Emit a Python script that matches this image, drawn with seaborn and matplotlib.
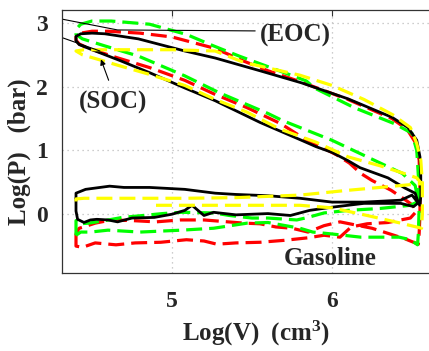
import matplotlib
matplotlib.use("Agg")
import matplotlib.pyplot as plt
import seaborn as sns

# ---- data: log10(V) [cm^3] vs log10(P) [bar] ----
black_v = [4.40, 4.40, 4.41, 4.45, 4.49, 4.53, 4.60, 4.66, 4.75, 4.89, 5.00, 5.08, 5.125, 5.20, 5.26, 5.40,
           5.60, 5.74, 5.86, 6.00, 6.20, 6.43, 6.51, 6.54,
           6.52, 6.456, 6.35, 6.175, 6.10, 6.00, 5.90, 5.80, 5.55, 5.27, 5.08, 4.86, 4.675, 4.49, 4.42, 4.40,
           4.40, 4.43, 4.50, 4.58,
           4.79, 5.08, 5.27, 5.55, 5.81, 6.10, 6.375, 6.475, 6.53, 6.55, 6.555, 6.556, 6.55,
           6.50, 6.43, 6.20, 6.00, 5.80, 5.60, 5.40, 5.27, 5.08, 4.86, 4.70, 4.61, 4.46, 4.40, 4.40]
black_p = [0.25, 0.05, -0.08, -0.13, -0.09, -0.08, -0.09, -0.12, -0.06, -0.05, 0.00, 0.06, 0.14, -0.02, 0.03, -0.01,
           0.01, -0.02, 0.06, 0.11, 0.17, 0.17, 0.12, 0.18,
           0.33, 0.41, 0.57, 0.73, 0.84, 0.97, 1.06, 1.17, 1.44, 1.78, 1.98, 2.22, 2.41, 2.59, 2.66, 2.72,
           2.79, 2.83, 2.84, 2.83,
           2.75, 2.56, 2.45, 2.25, 2.06, 1.81, 1.52, 1.36, 1.16, 0.90, 0.60, 0.30, 0.14,
           0.30, 0.22, 0.19, 0.19, 0.25, 0.29, 0.31, 0.33, 0.39, 0.42, 0.42, 0.44, 0.39, 0.33, 0.25]

red_v = [4.40, 4.40, 4.44, 4.52, 4.65, 4.77, 4.93, 5.09, 5.20, 5.28, 5.40, 5.55, 5.70, 5.85, 5.95, 6.05,
         6.12, 6.22, 6.35, 6.49, 6.53,
         6.50, 6.45, 6.37, 6.25, 6.18, 6.11, 6.03, 5.92, 5.83, 5.68, 5.47, 5.26, 5.08, 4.86, 4.65, 4.48, 4.42, 4.40,
         4.40, 4.43, 4.50, 4.60,
         4.80, 5.00, 5.12, 5.27, 5.45, 5.60, 5.80, 6.10, 6.375, 6.47, 6.52, 6.545, 6.55, 6.55, 6.545, 6.54,
         6.45, 6.35, 6.25, 6.15, 6.05, 5.95, 5.85, 5.75, 5.65, 5.55, 5.45, 5.35, 5.20, 5.05, 4.90, 4.75,
         4.62, 4.52, 4.46, 4.42, 4.40]
red_p = [-0.30, -0.50, -0.52, -0.45, -0.48, -0.45, -0.44, -0.40, -0.42, -0.47, -0.45, -0.44, -0.41, -0.37, -0.33, -0.36,
         -0.20, -0.15, -0.13, -0.06, 0.05,
         0.15, 0.24, 0.375, 0.53, 0.64, 0.80, 0.93, 1.07, 1.18, 1.42, 1.67, 1.89, 2.10, 2.30, 2.46, 2.60, 2.67, 2.73,
         2.78, 2.84, 2.87, 2.87,
         2.84, 2.78, 2.70, 2.60, 2.40, 2.25, 2.08, 1.80, 1.50, 1.33, 1.13, 0.85, 0.40, 0.00, -0.30, -0.47,
         -0.38, -0.30, -0.22, -0.17, -0.12, -0.18, -0.28, -0.22, -0.20, -0.15, -0.14, -0.12, -0.09, -0.09, -0.12, -0.10,
         -0.09, -0.14, -0.19, -0.22, -0.30]

green_v = [4.40, 4.40, 4.42, 4.48, 4.58, 4.69, 4.82, 4.94, 5.06, 5.26, 5.36, 5.50, 5.60, 5.78, 5.85, 5.95,
           6.10, 6.30, 6.49,
           6.54, 6.52, 6.44, 6.27, 6.00, 5.69, 5.60, 5.30, 5.08, 4.79, 4.58, 4.44, 4.40,
           4.40, 4.43, 4.50, 4.62,
           4.86, 5.09, 5.26, 5.42, 5.67, 5.84, 5.89, 6.14, 6.39, 6.50, 6.53, 6.54, 6.545, 6.54, 6.535,
           6.49, 6.42, 6.30, 6.18, 6.00, 5.88, 5.80, 5.60, 5.47, 5.26, 5.06, 4.80, 4.60, 4.49, 4.43, 4.40]
green_p = [-0.33, -0.10, -0.15, -0.14, -0.10, -0.05, -0.02, 0.01, 0.03, 0.02, -0.02, -0.06, -0.06, -0.09, -0.05, 0.02,
           0.06, 0.09, 0.14,
           0.20, 0.45, 0.64, 0.84, 1.16, 1.47, 1.58, 1.90, 2.17, 2.48, 2.64, 2.75, 2.82,
           2.90, 2.98, 3.03, 3.03,
           2.98, 2.82, 2.64, 2.48, 2.25, 2.09, 1.98, 1.67, 1.42, 1.27, 1.00, 0.60, 0.10, -0.30, -0.48,
           -0.40, -0.36, -0.36, -0.36, -0.31, -0.28, -0.22, -0.13, -0.14, -0.22, -0.25, -0.28, -0.25, -0.28, -0.28, -0.33]

yellow_v = [4.40, 4.40, 4.45, 4.70, 5.08, 5.40, 5.80, 6.10, 6.43, 6.56,
            6.53, 6.45, 6.30, 6.10, 5.90, 5.67, 5.47, 5.27, 5.08, 4.85, 4.67, 4.55, 4.44, 4.40,
            4.45, 4.70, 5.00, 5.27,
            5.45, 5.80, 6.00, 6.20, 6.38, 6.49, 6.53, 6.555, 6.565, 6.565, 6.56,
            6.43, 6.22, 6.00, 5.80, 5.50, 5.20, 4.90]
yellow_p = [0.20, 0.24, 0.25, 0.25, 0.25, 0.26, 0.30, 0.375, 0.45, 0.48,
            0.57, 0.64, 0.76, 0.90, 1.13, 1.34, 1.60, 1.80, 2.02, 2.20, 2.33, 2.42, 2.50, 2.56,
            2.58, 2.58, 2.58, 2.56,
            2.38, 2.18, 2.02, 1.80, 1.56, 1.36, 1.11, 0.85, 0.50, 0.00, -0.22,
            -0.14, -0.02, 0.10, 0.14, 0.14, 0.14, 0.14]

x_ticks = [5, 6]
y_ticks = [0, 1, 2, 3]

sns.set_style("white")
plt.rcParams['font.family'] = ['Liberation Serif', 'DejaVu Serif']
plt.rcParams['font.weight'] = 'bold'
plt.rcParams['mathtext.fontset'] = 'custom'
plt.rcParams['mathtext.rm'] = 'Liberation Serif:bold'
plt.rcParams['mathtext.it'] = 'Liberation Serif:bold'
plt.rcParams['mathtext.bf'] = 'Liberation Serif:bold'

fig = plt.figure(figsize=(4.29, 3.51), dpi=100)
ax = fig.add_axes([62 / 429, 1 - 273 / 351, (431 - 62) / 429, (273 - 10) / 351])

dash = (0, (5, 2.2))
sns.lineplot(x=red_v, y=red_p, sort=False, estimator=None, color='#ff0000', linewidth=2.3, linestyle=dash, ax=ax)
sns.lineplot(x=green_v, y=green_p, sort=False, estimator=None, color='#00ff00', linewidth=2.3, linestyle=dash, ax=ax)
sns.lineplot(x=black_v, y=black_p, sort=False, estimator=None, color='black', linewidth=2.0, ax=ax)
sns.lineplot(x=yellow_v, y=yellow_p, sort=False, estimator=None, color='#ffff00', linewidth=2.3, linestyle=dash, ax=ax)

ax.set_xlim(4.3125, 6.619)
ax.set_ylim(-0.922, 3.203)
ax.set_xticks(x_ticks)
ax.set_yticks(y_ticks)
ax.grid(True, linestyle=(0, (1, 3)), color='#bdbdbd', linewidth=0.9)
ax.tick_params(direction='in', top=True, right=False, length=4.5, width=0.8, labelsize=17, color='#333333')
ax.tick_params(axis='x', pad=13)
ax.tick_params(axis='y', pad=10)
for s in ax.spines.values():
    s.set_color('#333333')
    s.set_linewidth(0.9)
ax.spines['right'].set_visible(False)

ax.set_xlabel("Log(V)  (cm$^{3}$)", fontsize=18, fontweight='bold')
ax.set_ylabel("Log(P)   (bar)", fontsize=18, fontweight='bold')
ax.xaxis.set_label_coords(0.526, -0.175)
ax.yaxis.set_label_coords(-0.085, 0.46)

# annotations
ax.plot([4.3125, 4.66, 5.52], [3.06, 2.89, 2.875], color='black', linewidth=0.8)
ax.plot([4.3125, 4.55], [2.77, 2.56], color='black', linewidth=0.8)
ax.annotate("", xy=(4.55, 2.47), xytext=(4.61, 2.06),
            arrowprops=dict(arrowstyle='-|>', color='black', lw=0.8, mutation_scale=8))
ax.text(5.77, 2.80, "(EOC)", ha='center', va='center', fontsize=18, fontweight='bold')
ax.text(4.63, 1.75, "(SOC)", ha='center', va='center', fontsize=18, fontweight='bold')
ax.text(5.99, -0.69, "Gasoline", ha='center', va='center', fontsize=18, fontweight='bold')

fig.savefig("out.png", dpi=100)
